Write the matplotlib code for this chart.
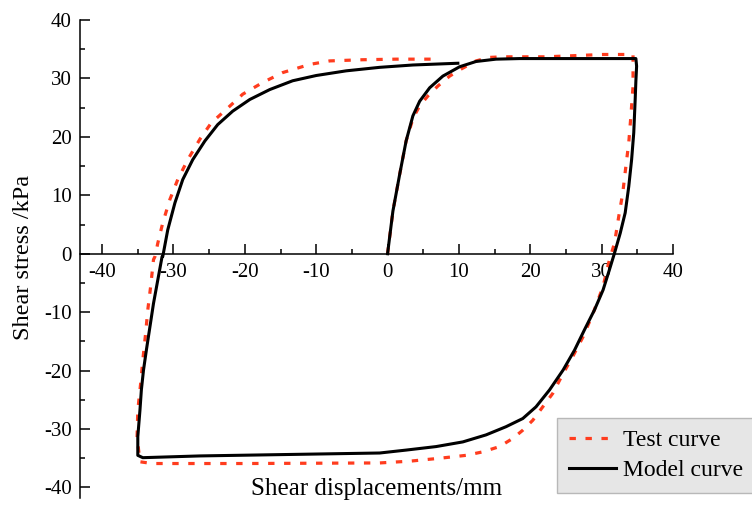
import matplotlib
matplotlib.use('Agg')
import matplotlib.pyplot as plt
import numpy as np
from matplotlib.ticker import MultipleLocator

plt.rcParams['font.family'] = ['Liberation Serif', 'DejaVu Serif']

# test curve: initial loading, then one full cycle
test_x = [0, 0.75, 1.7, 2.6, 3.6, 4.5, 5.65, 7.05, 8.7, 10.3, 12.4, 14.3, 16.2,
          22.2, 30.2, 34.4,
          34.4, 34.1, 33.8, 33.4, 32.96, 32.4, 31.8, 31.1, 30.2, 28.8, 27.4,
          25.95, 24.6, 23.15, 21.75, 20.35, 18.95, 17.55, 15.7, 13.35, 11.0,
          7.3, 3.1, -1.1, -20.0, -33.0, -34.7,
          -35.1, -35.0, -34.6, -34.3, -33.9, -33.6, -33.2, -32.8, -32.6,
          -32.2, -31.5, -30.5, -29.4, -28.0, -26.3, -24.7, -22.6, -20.3,
          -17.5, -14.7, -10.9, -8.1, -3.5, 1.2, 6.35]
test_y = [0, 7.3, 13.6, 19.3, 23.3, 25.3, 27.0, 28.7, 30.4, 31.6, 33.0, 33.6, 33.7,
          33.7, 34.1, 34.1,
          28.7, 23.6, 19.0, 15.0, 10.4, 6.4, 1.8, -1.0, -5.6, -10.2, -14.2,
          -17.6, -20.5, -23.9, -26.2, -28.5, -30.2, -31.6, -33.0, -33.9, -34.5,
          -35.0, -35.5, -35.8, -35.9, -35.9, -35.6,
          -31.3, -26.8, -22.2, -18.2, -13.6, -9.6, -5.6, -1.0, -0.5,
          1.8, 5.3, 9.3, 12.7, 16.1, 19.6, 22.4, 24.7, 27.3,
          29.3, 31.0, 32.4, 33.0, 33.2, 33.3, 33.3]

# model curve
model_x = [0, 0.75, 1.7, 2.6, 3.55, 4.5, 5.9, 7.75, 10.1, 12.4, 15.2, 18.5,
           26.0, 34.8,
           34.9, 34.8, 34.7, 34.5, 34.2, 33.8, 33.3, 32.6, 31.8, 31.1, 30.2,
           29.0, 27.6, 26.2, 24.6, 22.7, 20.8, 18.95, 16.6, 13.8, 10.55, 6.8,
           2.6, -1.1, -26.3, -34.3, -35.0,
           -35.0, -34.7, -34.5, -34.2, -33.8, -33.3, -32.8, -32.2, -31.6,
           -31.5, -30.8, -29.8, -28.7, -27.3, -25.6, -23.8, -21.7, -19.3,
           -16.5, -13.3, -10.0, -5.8, -1.1, 3.55, 9.85]
model_y = [0, 7.3, 13.6, 19.3, 23.6, 26.1, 28.4, 30.4, 32.0, 32.9, 33.3, 33.4,
           33.4, 33.4,
           32.1, 29.6, 26.4, 20.7, 16.1, 11.5, 7.0, 3.5, 0.1, -2.7, -6.2,
           -9.6, -13.0, -16.5, -19.9, -23.3, -26.2, -28.2, -29.6, -31.0, -32.2,
           -33.0, -33.6, -34.1, -34.6, -34.9, -34.5,
           -31.3, -26.8, -23.3, -19.9, -16.5, -12.5, -8.5, -4.5, -0.5,
           -0.46, 4.1, 8.7, 12.7, 16.1, 19.3, 22.1, 24.4, 26.4,
           28.1, 29.6, 30.5, 31.3, 31.9, 32.3, 32.6]

fig = plt.figure(figsize=(7.52, 5.05), dpi=100)
ax = fig.add_axes([80/752, 1-498/505, (673-80)/752, (498-20)/505])

ax.plot(test_x, test_y, color='#ff3c1e', lw=2.3, linestyle=(0, (2, 3)),
        dash_capstyle='butt', label='Test curve', zorder=2)
ax.plot(model_x, model_y, color='black', lw=2.2, label='Model curve', zorder=3,
        solid_joinstyle='round')

ax.set_xlim(-43.1, 40)
ax.set_ylim(-41.8, 40)

ax.spines['top'].set_visible(False)
ax.spines['right'].set_visible(False)
ax.spines['bottom'].set_position(('data', 0))
for s in ['left', 'bottom']:
    ax.spines[s].set_linewidth(1.1)

ax.xaxis.set_major_locator(MultipleLocator(10))
ax.xaxis.set_minor_locator(MultipleLocator(5))
ax.yaxis.set_major_locator(MultipleLocator(10))
ax.yaxis.set_minor_locator(MultipleLocator(5))
ax.tick_params(which='both', direction='in', width=1.1, labelsize=15)
ax.tick_params(which='major', length=7)
ax.tick_params(which='minor', length=3.5)
ax.tick_params(axis='x', pad=7)
ax.tick_params(axis='y', pad=6)
ax.set_xticks(np.arange(-40, 41, 10))
ax.set_xticklabels(['-40', '-30', '-20', '-10', '0', '10', '20', '30', '40'])
ax.set_yticks(np.arange(-40, 41, 10))
ax.set_yticklabels(['-40', '-30', '-20', '-10', '0', '10', '20', '30', '40'])

fig.text(377/752, 1-489/505, 'Shear displacements/mm', fontsize=18,
         ha='center', va='center')
fig.text(24/752, 1-257/505, 'Shear stress /kPa', fontsize=17.5,
         ha='center', va='center', rotation=90)

leg = ax.legend(loc='upper left', bbox_to_anchor=(557/752, 1-418/505),
                bbox_transform=fig.transFigure, fontsize=17, frameon=True,
                fancybox=False, handlelength=2.0, handletextpad=0.3,
                borderpad=0.5, labelspacing=0.35, borderaxespad=0)
leg.get_frame().set_facecolor('#e6e6e6')
leg.get_frame().set_edgecolor('#b8b8b8')
leg.get_frame().set_alpha(1)

fig.savefig('out.png', dpi=100)
